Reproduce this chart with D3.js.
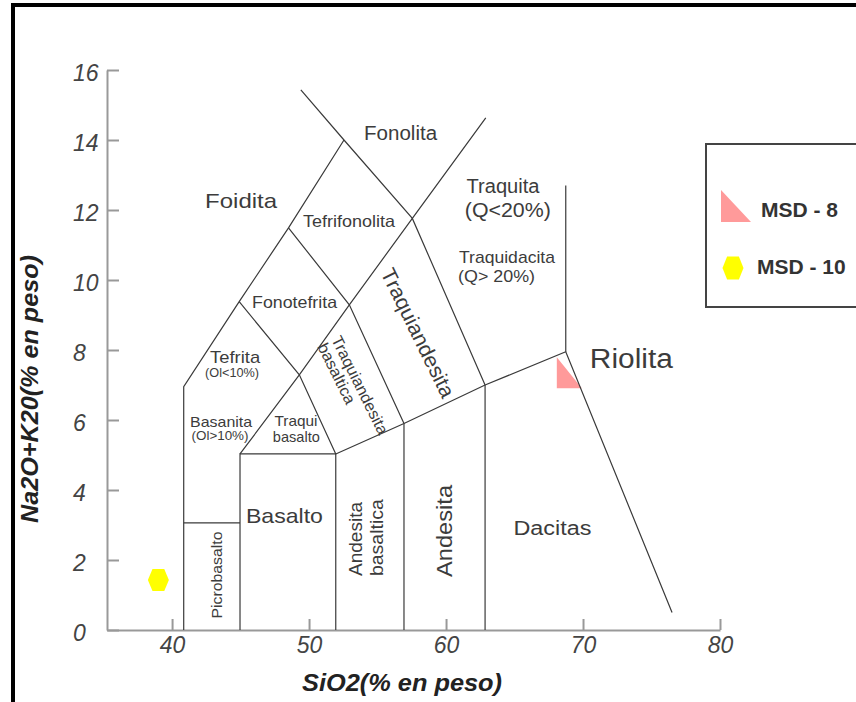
<!DOCTYPE html>
<html>
<head>
<meta charset="utf-8">
<script src="https://cdn.jsdelivr.net/npm/d3@7"></script>
<style>
  body { margin: 0; background: #fff; }
  svg { display: block; }
  text { font-family: 'Liberation Sans', Arial, sans-serif; }
</style>
</head>
<body>
<svg id="chart" width="856" height="702"></svg>
<script>
// Samples (SiO2 vs Na2O+K2O, % en peso)
const sampleNames = ['MSD - 8', 'MSD - 10'];
const sio2Values = [69.0, 39.0];
const alkaliValues = [7.35, 1.43];
const sampleColors = ['#ff9a9a', '#ffff00'];

// Axis ticks
const xTicks = [40, 50, 60, 70, 80];
const yTicks = [0, 2, 4, 6, 8, 10, 12, 14, 16];

// TAS field boundaries (SiO2, Na2O+K2O)
const boundaries = [
    [[40.85, 0], [40.85, 6.95], [44.9, 9.38], [48.5, 11.49], [52.55, 14.0]],
    [[49.4, 15.43], [52.55, 14.0], [57.54, 11.76], [62.85, 7.0]],
    [[40.85, 3.06], [44.96, 3.06]],
    [[44.96, 0], [44.96, 5.03], [51.95, 5.03], [51.95, 0]],
    [[44.96, 5.03], [49.29, 7.29], [52.94, 9.29], [57.54, 11.76], [62.9, 14.63]],
    [[44.9, 9.38], [49.29, 7.29], [51.95, 5.03]],
    [[48.5, 11.49], [52.94, 9.29], [56.93, 5.9]],
    [[51.95, 5.03], [56.93, 5.9], [62.85, 7.0], [68.74, 7.95], [76.5, 0.5]],
    [[56.93, 0], [56.93, 5.9]],
    [[62.85, 0], [62.85, 7.0]],
    [[68.74, 7.95], [68.74, 12.7]]
];

// Field names
const fieldLabels = [
    { t: 'Foidita', x: 45.04, y: 12.06, size: 21, len: 72 },
    { t: 'Fonolita', x: 56.68, y: 14.0, size: 19.5, len: 73 },
    { t: 'Tefrifonolita', x: 52.92, y: 11.52, size: 16.5, len: 92 },
    { t: 'Fonotefrita', x: 48.94, y: 9.21, size: 16.5, len: 85 },
    { t: 'Traquita', x: 64.16, y: 12.49, size: 20, len: 73 },
    { t: '(Q<20%)', x: 64.51, y: 11.81, size: 20, len: 86 },
    { t: 'Traquidacita', x: 64.45, y: 10.48, size: 17, len: 96 },
    { t: '(Q> 20%)', x: 63.69, y: 9.95, size: 16, len: 77 },
    { t: 'Tefrita', x: 44.6, y: 7.62, size: 17, len: 50 },
    { t: '(Ol<10%)', x: 44.38, y: 7.22, size: 12, len: 54 },
    { t: 'Basanita', x: 43.58, y: 5.79, size: 15, len: 62 },
    { t: '(Ol>10%)', x: 43.5, y: 5.43, size: 12.5, len: 57 },
    { t: 'Traqui', x: 49.05, y: 5.84, size: 14.5, len: 43 },
    { t: 'basalto', x: 49.07, y: 5.37, size: 14.5, len: 47 },
    { t: 'Basalto', x: 48.2, y: 3.05, size: 21, len: 77 },
    { t: 'Dacitas', x: 67.77, y: 2.71, size: 20, len: 78 },
    { t: 'Riolita', x: 73.53, y: 7.48, size: 27, len: 83 },
    { t: 'Picrobasalto', x: 43.61, y: 1.57, size: 15.5, len: 87, rot: -90 },
    { t: 'Andesita', x: 53.85, y: 2.6, size: 18, len: 74, rot: -90 },
    { t: 'basaltica', x: 55.4, y: 2.64, size: 18, len: 77, rot: -90 },
    { t: 'Andesita', x: 60.4, y: 2.83, size: 22, len: 92, rot: -90 },
    { t: 'Traquiandesita', x: 57.96, y: 8.49, size: 21, len: 141, rot: 63.8, mid: true },
    { t: 'Traquiandesita', x: 53.72, y: 7.0, size: 16, len: 108, rot: 63.5, mid: true },
    { t: 'basaltica', x: 52.02, y: 7.33, size: 16, len: 66, rot: 63.5, mid: true }
];

const svg = d3.select('#chart');

svg.append('rect')
    .attr('width', 856).attr('height', 702)
    .attr('fill', '#fff');

// outer frame (cropped on right and bottom)
svg.append('rect')
    .attr('x', 13).attr('y', 5)
    .attr('width', 900).attr('height', 800)
    .attr('fill', 'none')
    .attr('stroke', '#000')
    .attr('stroke-width', 4);

const x = d3.scaleLinear().domain([35.25, 80]).range([107, 720]);
const y = d3.scaleLinear().domain([0, 16]).range([630, 70]);

// axes
const xAxis = svg.append('g')
    .attr('transform', `translate(0,${y(0)})`)
    .call(d3.axisBottom(x).tickValues(xTicks).tickSizeInner(-11).tickSizeOuter(0).tickPadding(7));

const yAxis = svg.append('g')
    .attr('transform', `translate(${x(35.25)},0)`)
    .call(d3.axisLeft(y).tickValues(yTicks).tickSizeInner(-12).tickSizeOuter(0).tickPadding(7));

[xAxis, yAxis].forEach(g => {
    g.select('.domain').attr('stroke', '#999').attr('stroke-width', 2);
    g.selectAll('.tick line').attr('stroke', '#999').attr('stroke-width', 2);
    g.selectAll('.tick text')
        .attr('fill', '#444')
        .style('font-size', '23px')
        .style('font-style', 'italic');
});
yAxis.selectAll('.tick text')
    .attr('text-anchor', 'start')
    .attr('x', -34)
    .attr('dy', '0.45em');

// sample markers (drawn under the boundaries)
const markerPath = {
    tri: (w, h) => `M${-w / 2},${-h / 2}L${-w / 2},${h / 2}L${w / 2},${h / 2}Z`,
    hex: (w, h) => `M${-w / 2},0L${-w * 0.28},${-h / 2}L${w * 0.28},${-h / 2}L${w / 2},0L${w * 0.28},${h / 2}L${-w * 0.28},${h / 2}Z`
};
const shapes = ['tri', 'hex'];

svg.append('g').selectAll('path')
    .data(sampleNames)
    .join('path')
    .attr('transform', (d, i) => `translate(${x(sio2Values[i])},${y(alkaliValues[i])})`)
    .attr('d', (d, i) => i === 0 ? markerPath.tri(25, 31) : markerPath.hex(21, 22))
    .attr('fill', (d, i) => sampleColors[i]);

// field boundaries
const line = d3.line().x(d => x(d[0])).y(d => y(d[1]));
svg.append('g').selectAll('path')
    .data(boundaries)
    .join('path')
    .attr('d', line)
    .attr('fill', 'none')
    .attr('stroke', '#3a3a3a')
    .attr('stroke-width', 1.2);

// field names
svg.append('g').selectAll('text')
    .data(fieldLabels)
    .join('text')
    .attr('transform', d => `translate(${x(d.x)},${y(d.y)})` + (d.rot ? ` rotate(${d.rot})` : ''))
    .attr('text-anchor', 'middle')
    .attr('dy', d => d.mid ? '0.35em' : null)
    .attr('textLength', d => d.len)
    .attr('lengthAdjust', 'spacingAndGlyphs')
    .attr('fill', '#3c3c3c')
    .style('font-size', d => d.size + 'px')
    .text(d => d.t);

// axis titles
svg.append('text')
    .attr('x', 402).attr('y', 691)
    .attr('text-anchor', 'middle')
    .attr('textLength', 200)
    .attr('lengthAdjust', 'spacingAndGlyphs')
    .attr('fill', '#222')
    .style('font-size', '23px')
    .style('font-weight', 'bold')
    .style('font-style', 'italic')
    .text('SiO2(% en peso)');

svg.append('text')
    .attr('transform', 'translate(38,389) rotate(-90)')
    .attr('text-anchor', 'middle')
    .attr('textLength', 268)
    .attr('lengthAdjust', 'spacingAndGlyphs')
    .attr('fill', '#222')
    .style('font-size', '24px')
    .style('font-weight', 'bold')
    .style('font-style', 'italic')
    .text('Na2O+K20(% en peso)');

// legend
const legend = svg.append('g');
legend.append('rect')
    .attr('x', 706).attr('y', 144)
    .attr('width', 200).attr('height', 163)
    .attr('fill', '#fff')
    .attr('stroke', '#444')
    .attr('stroke-width', 2);

const legendRows = [{ cx: 736, cy: 206, w: 30, h: 32, tx: 761, ty: 217 },
                    { cx: 733, cy: 268, w: 21, h: 23, tx: 757, ty: 274 }];

legend.selectAll('path')
    .data(sampleNames)
    .join('path')
    .attr('transform', (d, i) => `translate(${legendRows[i].cx},${legendRows[i].cy})`)
    .attr('d', (d, i) => markerPath[shapes[i]](legendRows[i].w, legendRows[i].h))
    .attr('fill', (d, i) => sampleColors[i]);

legend.selectAll('text')
    .data(sampleNames)
    .join('text')
    .attr('x', (d, i) => legendRows[i].tx)
    .attr('y', (d, i) => legendRows[i].ty)
    .attr('fill', '#333')
    .style('font-size', '21px')
    .style('font-weight', 'bold')
    .text(d => d);
</script>
</body>
</html>
